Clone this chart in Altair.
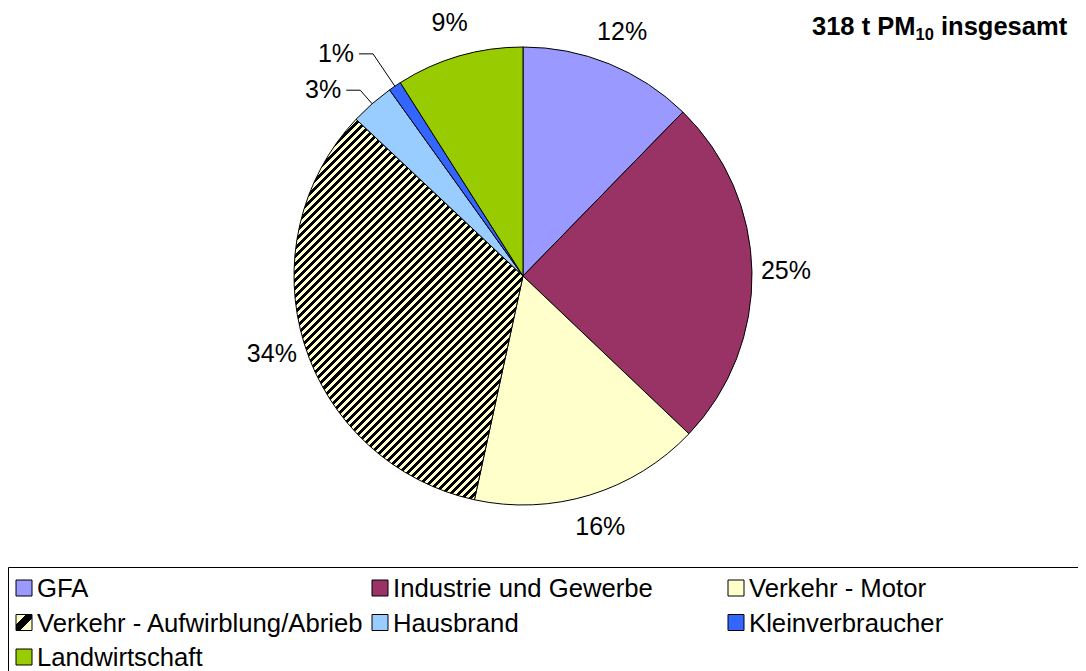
import math
import altair as alt
import pandas as pd

# ---------------- data ----------------
categories = ["GFA", "Industrie und Gewerbe", "Verkehr - Motor",
              "Verkehr - Aufwirblung/Abrieb", "Hausbrand", "Kleinverbraucher",
              "Landwirtschaft"]
shares = [12.3, 24.8, 16.3, 33.6, 3.1, 0.9, 9.0]
colors = ["#9999FF", "#993366", "#FFFFCC", "#FFFFCC", "#99CCFF", "#3366FF", "#99CC00"]
hatched = "Verkehr - Aufwirblung/Abrieb"

title_main = "318 t PM"
title_sub = "10"
title_rest = "insgesamt"

# ---------------- layout ----------------
W, H = 1070, 663
CX, CY, R = 515, 268, 229
LABEL_R = 263
FONT = "Liberation Sans"

df = pd.DataFrame({"cat": categories, "value": shares, "idx": list(range(len(categories)))})

# stripe gradient for the hatched slice (diagonal "/" lines, ~8px period)
total = sum(shares)
ih = categories.index(hatched)
a0 = 2 * math.pi * sum(shares[:ih]) / total
a1 = 2 * math.pi * sum(shares[:ih + 1]) / total
pts = [(0.0, 0.0), (math.sin(a0), -math.cos(a0)), (math.sin(a1), -math.cos(a1))]
for q in range(5):
    ang = q * math.pi / 2
    if a0 < ang < a1:
        pts.append((math.sin(ang), -math.cos(ang)))
bw = (max(p[0] for p in pts) - min(p[0] for p in pts)) * R
bh = (max(p[1] for p in pts) - min(p[1] for p in pts)) * R


def stripes(w, h, period, frac, c1="#000000", c2="#FFFFCC"):
    s = (w + h) / (w * w + h * h)
    n = max(1, round((w + h) / math.sqrt(2) / period))
    stops = []
    for k in range(n):
        o0, o1, o2 = k / n, (k + frac) / n, (k + 1) / n
        stops += [{"offset": round(o0, 5), "color": c1},
                  {"offset": round(o1, 5), "color": c1},
                  {"offset": round(o1, 5), "color": c2},
                  {"offset": round(o2, 5), "color": c2}]
    return {"gradient": "linear", "x1": 0, "y1": 0, "x2": w * s, "y2": h * s, "stops": stops}


slice_grad = stripes(bw, bh, 8 / math.sqrt(2), 0.5)
legend_grad = {"gradient": "linear", "x1": 0, "y1": 0, "x2": 1, "y2": 1,
               "stops": [{"offset": 0, "color": "#FFFFCC"}, {"offset": 0.3, "color": "#FFFFCC"},
                         {"offset": 0.3, "color": "#000000"}, {"offset": 0.62, "color": "#000000"},
                         {"offset": 0.62, "color": "#FFFFCC"}, {"offset": 1, "color": "#FFFFCC"}]}

test = f"datum.cat === '{hatched}'"
fill_scale = alt.Scale(domain=categories, range=colors)

# ---------------- pie ----------------
pie = alt.Chart(df).mark_arc(outerRadius=R, stroke="black", strokeWidth=1).encode(
    theta=alt.Theta("value:Q", stack=True),
    order=alt.Order("idx:Q", sort="ascending"),
    fill=alt.condition(test, alt.value(slice_grad),
                       alt.Fill("cat:N", scale=fill_scale, legend=None)),
    x=alt.value(CX),
    y=alt.value(CY),
)

base = alt.Chart(df).transform_joinaggregate(
    total="sum(value)"
).transform_window(
    cum="sum(value)", sort=[alt.SortField("idx", order="ascending")], frame=[None, 0]
).transform_calculate(
    mid="2*PI*(datum.cum - datum.value/2)/datum.total",
    pct="format(datum.value/datum.total, '.0%')",
    share="datum.value/datum.total",
)

big = base.transform_filter("datum.share >= 0.05").transform_calculate(
    lx=f"{CX} + {LABEL_R}*sin(datum.mid)",
    ly=f"{CY} - {LABEL_R}*cos(datum.mid)",
).mark_text(font=FONT, fontSize=25, align="center", baseline="middle", color="black").encode(
    x=alt.X("lx:Q", scale=None, axis=None),
    y=alt.Y("ly:Q", scale=None, axis=None),
    text="pct:N",
)

small = base.transform_filter("datum.share < 0.05").transform_window(
    k="row_number()", sort=[alt.SortField("idx", order="ascending")]
).transform_calculate(
    ex=f"{CX} + {R}*sin(datum.mid)",
    ey=f"{CY} - {R}*cos(datum.mid)",
    rb=f"{R} + 18 + 21*(datum.k - 1)",
).transform_calculate(
    bx=f"{CX} + datum.rb*sin(datum.mid)",
    by=f"{CY} - datum.rb*cos(datum.mid)",
).transform_calculate(
    hx="datum.bx - 14",
    tx="datum.bx - 19",
)

lead1 = small.mark_rule(color="black", strokeWidth=1).encode(
    x=alt.X("ex:Q", scale=None, axis=None), y=alt.Y("ey:Q", scale=None, axis=None),
    x2="bx:Q", y2="by:Q")
lead2 = small.mark_rule(color="black", strokeWidth=1).encode(
    x=alt.X("bx:Q", scale=None, axis=None), y=alt.Y("by:Q", scale=None, axis=None),
    x2="hx:Q", y2="by:Q")
small_txt = small.mark_text(font=FONT, fontSize=25, align="right", baseline="middle",
                            color="black").encode(
    x=alt.X("tx:Q", scale=None, axis=None), y=alt.Y("by:Q", scale=None, axis=None),
    text="pct:N")

# ---------------- legend ----------------
one = pd.DataFrame({"a": [0]})
box = alt.Chart(one).mark_rect(fillOpacity=0, stroke="black", strokeWidth=1).encode(
    x=alt.value(0.5), x2=alt.value(1300), y=alt.value(559.5), y2=alt.value(900))

leg = alt.Chart(df).transform_calculate(
    col="datum.idx % 3", row="floor(datum.idx / 3)"
).transform_calculate(
    sx="16 + datum.col*356", sy="580 + datum.row*34.5"
).transform_calculate(tx="datum.sx + 13", ty="datum.sy + 9")

leg_sym = leg.mark_square(size=256, stroke="black", strokeWidth=1, opacity=1, filled=True).encode(
    x=alt.X("sx:Q", scale=None, axis=None), y=alt.Y("sy:Q", scale=None, axis=None),
    fill=alt.condition(test, alt.value(legend_grad),
                       alt.Fill("cat:N", scale=fill_scale, legend=None)),
)
leg_txt = leg.mark_text(font=FONT, fontSize=25.7, align="left", baseline="alphabetic",
                        color="black").encode(
    x=alt.X("tx:Q", scale=None, axis=None), y=alt.Y("ty:Q", scale=None, axis=None),
    text="cat:N")

# ---------------- title ----------------
t1 = alt.Chart(one).mark_text(text=title_main, font=FONT, fontSize=25.5, fontWeight="bold",
                              align="left", baseline="alphabetic").encode(
    x=alt.value(804), y=alt.value(27))
t2 = alt.Chart(one).mark_text(text=title_sub, font=FONT, fontSize=16.5, fontWeight="bold",
                              align="left", baseline="alphabetic").encode(
    x=alt.value(907.5), y=alt.value(31.5))
t3 = alt.Chart(one).mark_text(text=title_rest, font=FONT, fontSize=25.5, fontWeight="bold",
                              align="left", baseline="alphabetic").encode(
    x=alt.value(933), y=alt.value(27))

chart = alt.layer(pie, big, lead1, lead2, small_txt, box, leg_sym, leg_txt, t1, t2, t3).properties(
    width=W, height=H, padding=0, autosize="none"
).configure_view(stroke=None)

chart.save("out.html", embed_options={"renderer": "svg", "actions": False})
